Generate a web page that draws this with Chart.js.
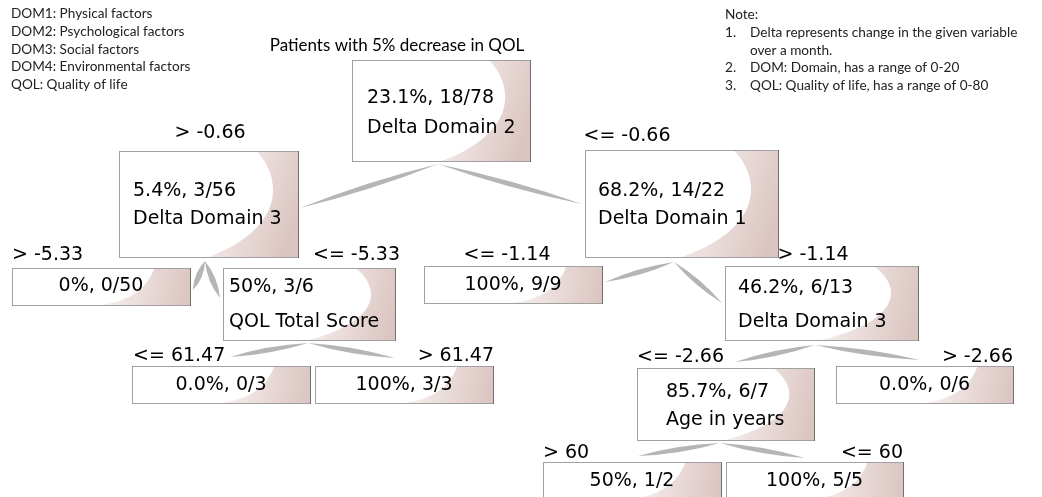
<!DOCTYPE html>
<html>
<head>
<meta charset="utf-8">
<script src="https://cdn.jsdelivr.net/npm/chart.js@4"></script>
<style>
  html, body { margin: 0; padding: 0; background: #fff; }
  canvas { display: block; }
</style>
</head>
<body>
<canvas id="tree" width="1042" height="497"></canvas>
<script>
// tree content
const nodePct = ['23.1%', '5.4%', '68.2%', '0%', '50%', '100%', '46.2%', '0.0%', '100%', '85.7%', '0.0%', '50%', '100%'];
const nodeHit = [18, 3, 14, 0, 3, 9, 6, 0, 3, 6, 0, 1, 5];
const nodeTotal = [78, 56, 22, 50, 6, 9, 13, 3, 3, 7, 6, 2, 5];
const nodeSplit = ['Delta Domain 2', 'Delta Domain 3', 'Delta Domain 1', '', 'QOL Total Score', '',
  'Delta Domain 3', '', '', 'Age in years', '', '', ''];
const nodeParent = [-1, 0, 0, 1, 1, 2, 2, 4, 4, 6, 6, 9, 9];
const edgeLabel = ['', '> -0.66', '<= -0.66', '> -5.33', '<= -5.33', '<= -1.14', '> -1.14',
  '<= 61.47', '> 61.47', '<= -2.66', '> -2.66', '> 60', '<= 60'];

const title = 'Patients with 5% decrease in QOL';
const legendLines = ['DOM1: Physical factors', 'DOM2: Psychological factors', 'DOM3: Social factors',
  'DOM4: Environmental factors', 'QOL: Quality of life'];
const noteLines = ['Delta represents change in the given variable', 'over a month.',
  'DOM: Domain, has a range of 0-20', 'QOL: Quality of life, has a range of 0-80'];
const noteNums = ['1.', '', '2.', '3.'];

// layout in chart units (x 0..1042, y 0..497 top-down)
const boxL = [352, 119, 585, 12, 223, 424, 725, 132, 315, 637, 836, 543, 726];
const boxT = [60, 151, 150, 268, 268, 266, 266, 366, 366, 368, 366, 462, 462];
const boxR = [530, 298, 778, 190, 395, 602, 918, 310, 493, 814, 1013, 721, 903];
const boxB = [161, 257, 257, 305, 340, 303, 340, 403, 403, 440, 403, 499, 499];
const textX = [367, 133, 598, null, 229, null, 738, null, null, 666, null, null, null];
const textY1 = [98, 191, 191, 286, 287, 285, 288, 385, 385, 392, 385, 481, 481];
const textY2 = [128, 219, 219, null, 322, null, 322, null, null, 420, null, null, null];
const labelX = [0, 210, 627, 12, 400, 507, 813, 133, 494, 637, 1013, 543, 903];
const labelY = [0, 133, 136, 255, 255, 255, 255, 356, 356, 357, 357, 453, 453];
const labelAlign = ['', 'center', 'center', 'left', 'right', 'center', 'center',
  'left', 'right', 'left', 'right', 'left', 'right'];
const linkFromX = [0, 438, 438, 205, 205, 674, 674, 308, 308, 815, 815, 720, 720];
const linkFromY = [0, 164, 164, 261, 261, 262, 262, 343, 343, 345, 345, 443, 443];
const linkToX = [0, 300, 582, 193, 220, 605, 722, 230, 395, 735, 920, 638, 805];
const linkToY = [0, 208, 204, 290, 298, 282, 303, 357, 358, 362, 360, 456, 458];

const NODE_FONT = '19px "DejaVu Sans", Verdana, sans-serif';
const SMALL_FONT = '13.6px Lato, "Open Sans", sans-serif';

function spindle(ctx, x0, y0, x1, y1, w) {
  const dx = x1 - x0, dy = y1 - y0, len = Math.hypot(dx, dy);
  const nx = -dy / len, ny = dx / len;
  const mx = x0 + dx * 0.5, my = y0 + dy * 0.5;
  ctx.beginPath();
  ctx.moveTo(x0, y0);
  ctx.quadraticCurveTo(mx + nx * w, my + ny * w, x1, y1);
  ctx.quadraticCurveTo(mx - nx * w, my - ny * w, x0, y0);
  ctx.fill();
}

function drawBox(ctx, l, t, r, b) {
  const w = r - l, h = b - t;
  ctx.save();
  ctx.beginPath();
  ctx.rect(l, t, w, h);
  ctx.clip();
  ctx.fillStyle = '#fff';
  ctx.fillRect(l, t, w, h);
  const g = ctx.createLinearGradient(l + 0.5 * w, t + 0.3 * h, r, t + 0.6 * h);
  g.addColorStop(0, '#f8f2f1');
  g.addColorStop(1, '#dbc5c1');
  ctx.fillStyle = g;
  ctx.beginPath();
  if (h > 50) {
    ctx.moveTo(l + 0.77 * w, t);
    ctx.bezierCurveTo(l + 0.93 * w, t + 0.3 * h, l + 0.9 * w, t + 0.75 * h, l + 0.5 * w, b);
  } else {
    ctx.moveTo(l + 0.8 * w, t);
    ctx.quadraticCurveTo(l + 0.74 * w, t + 0.85 * h, l + 0.5 * w, b);
  }
  ctx.lineTo(r + 1, b + 1);
  ctx.lineTo(r + 1, t);
  ctx.closePath();
  ctx.fill();
  ctx.restore();
  ctx.lineWidth = 1;
  ctx.strokeStyle = '#a0a0a0';
  ctx.strokeRect(l + 0.5, t + 0.5, w, h);
  ctx.strokeStyle = '#707070';
  ctx.beginPath();
  ctx.moveTo(r + 0.5, t);
  ctx.lineTo(r + 0.5, b + 1);
  ctx.stroke();
}

const treePlugin = {
  id: 'tree',
  afterDatasetsDraw(chart) {
    const { ctx, scales: { x, y } } = chart;
    const px = v => x.getPixelForValue(v);
    const py = v => y.getPixelForValue(v);
    ctx.save();

    // boxes
    for (let i = 0; i < nodePct.length; i++) {
      drawBox(ctx, px(boxL[i]), py(boxT[i]), px(boxR[i]), py(boxB[i]));
    }

    // connectors
    ctx.fillStyle = '#b5b5b5';
    for (let i = 0; i < nodeParent.length; i++) {
      if (nodeParent[i] < 0) continue;
      const x0 = px(linkFromX[i]), y0 = py(linkFromY[i]);
      const x1 = px(linkToX[i]), y1 = py(linkToY[i]);
      const short = Math.hypot(x1 - x0, y1 - y0) < 50;
      spindle(ctx, x0, y0, x1, y1, short ? 6 : 5);
    }

    // node text
    ctx.fillStyle = '#000';
    ctx.font = NODE_FONT;
    ctx.textBaseline = 'middle';
    for (let i = 0; i < nodePct.length; i++) {
      const line1 = `${nodePct[i]}, ${nodeHit[i]}/${nodeTotal[i]}`;
      if (textX[i] === null) {
        ctx.textAlign = 'center';
        ctx.fillText(line1, px((boxL[i] + boxR[i]) / 2), py(textY1[i]));
      } else {
        ctx.textAlign = 'left';
        ctx.fillText(line1, px(textX[i]), py(textY1[i]));
        ctx.fillText(nodeSplit[i], px(textX[i]), py(textY2[i]));
      }
    }

    // split labels
    for (let i = 0; i < edgeLabel.length; i++) {
      if (!edgeLabel[i]) continue;
      ctx.textAlign = labelAlign[i];
      ctx.fillText(edgeLabel[i], px(labelX[i]), py(labelY[i]));
    }

    // title
    ctx.font = '17px Lato, "Open Sans", sans-serif';
    ctx.textAlign = 'center';
    ctx.fillText(title, px(397), py(46));

    // abbreviations
    ctx.font = SMALL_FONT;
    ctx.textAlign = 'left';
    ctx.fillStyle = '#222';
    legendLines.forEach((s, k) => ctx.fillText(s, px(11), py(14 + k * 17.6)));

    // notes
    ctx.fillText('Note:', px(725), py(15));
    noteLines.forEach((s, k) => {
      const ny = 33 + k * 17.5;
      if (noteNums[k]) ctx.fillText(noteNums[k], px(725), py(ny));
      ctx.fillText(s, px(750), py(ny));
    });
    ctx.restore();
  }
};

new Chart(document.getElementById('tree'), {
  type: 'scatter',
  data: {
    datasets: [{
      label: 'nodes',
      data: nodePct.map((_, i) => ({ x: (boxL[i] + boxR[i]) / 2, y: (boxT[i] + boxB[i]) / 2 })),
      pointRadius: 0
    }]
  },
  options: {
    responsive: false,
    animation: false,
    layout: { padding: 0 },
    plugins: { legend: { display: false }, tooltip: { enabled: false } },
    scales: {
      x: { type: 'linear', min: 0, max: 1042, display: false },
      y: { type: 'linear', min: 0, max: 497, reverse: true, display: false }
    }
  },
  plugins: [treePlugin]
});
</script>
</body>
</html>
